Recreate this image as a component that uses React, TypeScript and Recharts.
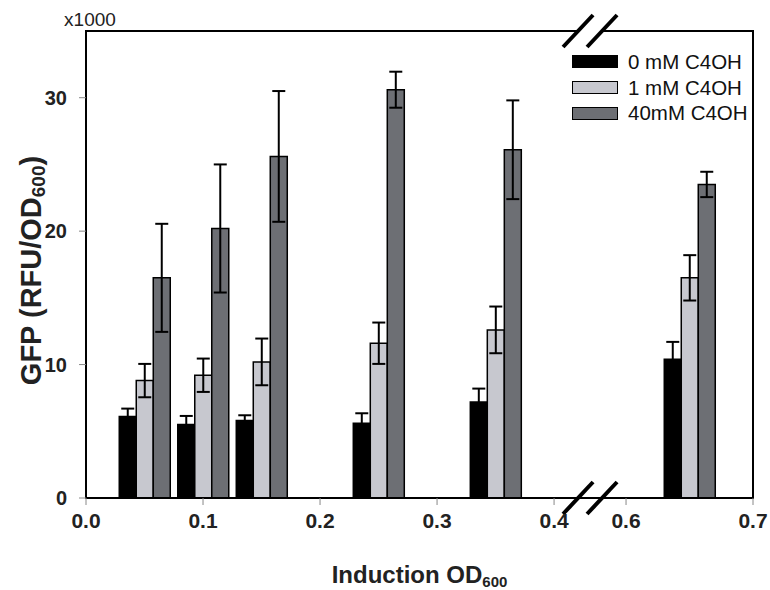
import { BarChart, Bar, XAxis, YAxis, ErrorBar, Legend, ReferenceArea } from 'recharts'

// Induction OD600 of each group and GFP readings (x1000 RFU/OD600)
const odValues = [0.05, 0.1, 0.15, 0.25, 0.35, 0.65]
const gfp0mM = [6.1, 5.5, 5.8, 5.6, 7.2, 10.4]
const err0mM = [0.6, 0.65, 0.4, 0.75, 1.0, 1.3]
const gfp1mM = [8.8, 9.2, 10.2, 11.6, 12.6, 16.5]
const err1mM = [1.25, 1.25, 1.75, 1.55, 1.75, 1.7]
const gfp40mM = [16.5, 20.2, 25.6, 30.6, 26.1, 23.5]
const err40mM = [4.05, 4.8, 4.9, 1.35, 3.7, 0.95]

const seriesNames = ['0 mM C4OH', '1 mM C4OH', '40mM C4OH']
const seriesColors = ['#000000', '#c7c8cf', '#6d6f74']

const xTicks = [0, 0.1, 0.2, 0.3, 0.4, 0.6, 0.7]
const xTickLabels = ['0.0', '0.1', '0.2', '0.3', '0.4', '0.6', '0.7']
const yTicks = [0, 10, 20, 30]

// broken x axis: 0.4..0.6 is squeezed, the part after the break is a bit wider
const BREAK_LO = 0.4
const BREAK_HI = 0.6
const BREAK_WIDTH = 0.0615
const POST_STRETCH = 1.085

function toAxis(x: number): number {
  if (x <= BREAK_LO) return x
  return BREAK_LO + BREAK_WIDTH + (x - BREAK_HI) * POST_STRETCH
}

const X_MAX = toAxis(0.7)

const data = odValues.map((od, i) => ({
  pos: toAxis(od),
  c0: gfp0mM[i],
  e0: err0mM[i],
  c1: gfp1mM[i],
  e1: err1mM[i],
  c40: gfp40mM[i],
  e40: err40mM[i],
}))

const FONT = '"Liberation Sans", Arial, Helvetica, sans-serif'

function BreakMarks(props: any) {
  const { x, y, width, height } = props
  const cx = x + width / 2
  const top = y
  const bottom = y + height
  const gap = 12
  const dx = 15
  const dy = 16
  const marks = (cy: number) => (
    <g>
      <rect x={cx - gap} y={cy - 3} width={gap * 2} height={6} fill="#ffffff" />
      <line x1={cx - gap - dx} y1={cy + dy} x2={cx - gap + dx} y2={cy - dy} stroke="#000" strokeWidth={4} />
      <line x1={cx + gap - dx} y1={cy + dy} x2={cx + gap + dx} y2={cy - dy} stroke="#000" strokeWidth={4} />
    </g>
  )
  return (
    <g>
      {marks(top)}
      {marks(bottom)}
    </g>
  )
}

function YLabel(props: any) {
  const { viewBox } = props
  const cx = viewBox.x + 31
  const cy = viewBox.y + viewBox.height / 2 + 6
  return (
    <g>
      <text
        x={viewBox.x + viewBox.width + 4}
        y={viewBox.y - 5}
        textAnchor="middle"
        fontFamily={FONT}
        fontSize={19}
        fill="#222"
      >
        x1000
      </text>
      <text
        x={cx}
        y={cy}
        transform={`rotate(-90, ${cx}, ${cy})`}
        textAnchor="middle"
        dominantBaseline="central"
        fontFamily={FONT}
        fontSize={29}
        fontWeight="bold"
        fill="#222"
      >
        GFP (RFU/OD
        <tspan fontSize={19} dy={7}>600</tspan>
        <tspan dy={-7}>)</tspan>
      </text>
    </g>
  )
}

function XLabel(props: any) {
  const { viewBox } = props
  const cx = viewBox.x + viewBox.width / 2
  return (
    <text
      x={cx}
      y={583}
      textAnchor="middle"
      fontFamily={FONT}
      fontSize={24}
      fontWeight="bold"
      fill="#222"
    >
      Induction OD
      <tspan fontSize={15} dy={4}>600</tspan>
    </text>
  )
}

function LegendBox(props: any) {
  const { payload } = props
  return (
    <div style={{ fontFamily: FONT, fontSize: 20.5, color: '#111' }}>
      {(payload || []).map((entry: any) => (
        <div key={entry.value} style={{ display: 'flex', alignItems: 'center', height: 25.8 }}>
          <span
            style={{
              display: 'inline-block',
              width: 44,
              height: 11,
              background: entry.color,
              border: '1.5px solid #000',
              marginRight: 10,
            }}
          />
          <span style={{ whiteSpace: 'nowrap' }}>{entry.value}</span>
        </div>
      ))}
    </div>
  )
}

export default function App() {
  return (
    <div style={{ position: 'absolute', left: 0, top: 0, background: '#fff' }}>
      <BarChart
        width={770}
        height={590}
        data={data}
        margin={{ top: 31, right: 17, bottom: 0, left: 0 }}
        barGap={0}
        barSize={17}
      >
        <XAxis
          dataKey="pos"
          type="number"
          domain={[0, X_MAX]}
          ticks={xTicks.map(toAxis)}
          tickFormatter={(_v: number, i: number) => xTickLabels[i]}
          height={92}
          axisLine={{ stroke: '#000', strokeWidth: 2 }}
          tickLine={{ stroke: '#888' }}
          tickSize={7}
          tickMargin={8}
          tick={{ fontSize: 21, fontWeight: 'bold', fill: '#222', fontFamily: FONT }}
          label={<XLabel />}
          allowDataOverflow
        />
        <YAxis
          type="number"
          domain={[0, 35]}
          ticks={yTicks}
          width={86}
          axisLine={{ stroke: '#000', strokeWidth: 2 }}
          tickLine={{ stroke: '#888' }}
          tickSize={7}
          tickMargin={12}
          tick={{ fontSize: 20, fontWeight: 'bold', fill: '#222', fontFamily: FONT }}
          label={<YLabel />}
        />
        <ReferenceArea
          x1={0}
          x2={X_MAX}
          y1={0}
          y2={35}
          fill="none"
          stroke="#000"
          strokeWidth={2}
          ifOverflow="visible"
        />
        <ReferenceArea
          x1={toAxis(BREAK_LO)}
          x2={toAxis(BREAK_HI)}
          y1={0}
          y2={35}
          ifOverflow="visible"
          shape={<BreakMarks />}
        />
        <Legend
          layout="vertical"
          align="center"
          verticalAlign="middle"
          wrapperStyle={{ left: 572, top: 49, width: 180 }}
          content={<LegendBox />}
        />
        <Bar dataKey="c0" name={seriesNames[0]} fill={seriesColors[0]} stroke="#000" strokeWidth={1.5} isAnimationActive={false}>
          <ErrorBar dataKey="e0" width={6.5} stroke="#000" strokeWidth={2} direction="y" />
        </Bar>
        <Bar dataKey="c1" name={seriesNames[1]} fill={seriesColors[1]} stroke="#000" strokeWidth={1.5} isAnimationActive={false}>
          <ErrorBar dataKey="e1" width={6.5} stroke="#000" strokeWidth={2} direction="y" />
        </Bar>
        <Bar dataKey="c40" name={seriesNames[2]} fill={seriesColors[2]} stroke="#000" strokeWidth={1.5} isAnimationActive={false}>
          <ErrorBar dataKey="e40" width={6.5} stroke="#000" strokeWidth={2} direction="y" />
        </Bar>
      </BarChart>
    </div>
  )
}
